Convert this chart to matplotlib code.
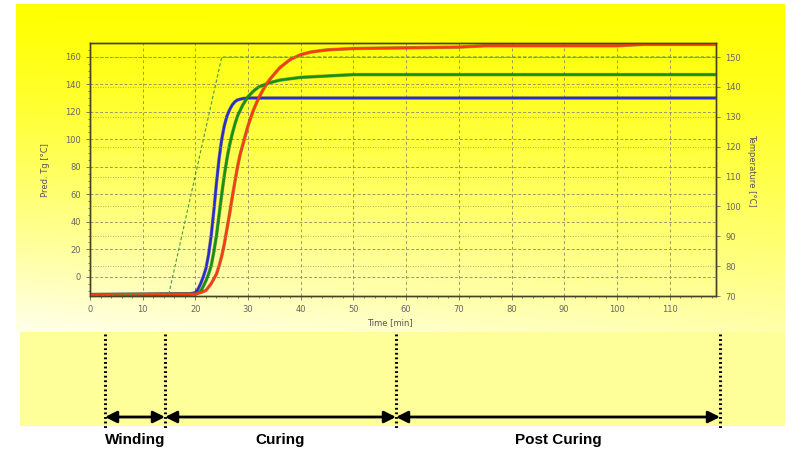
import numpy as np
import matplotlib
matplotlib.use("Agg")
import matplotlib.pyplot as plt

# ---------------- data ----------------
blue_t = [0, 19, 20, 20.5, 21, 21.5, 22, 22.5, 23, 23.5, 24, 24.5, 25, 25.5, 26, 26.5, 27, 27.5, 28, 29, 30, 119]
blue_v = [-13, -12.5, -11.5, -9, -5, 0, 6, 16, 30, 48, 68, 86, 100, 110, 117, 121.5, 125, 127.3, 128.6, 129.6, 130, 130]

green_t = [0, 20, 21, 21.5, 22, 22.5, 23, 23.5, 24, 24.5, 25, 25.5, 26, 26.5, 27, 27.5, 28, 29, 30, 31, 32, 34, 36, 40, 45, 50, 119]
green_v = [-13, -12.5, -10.5, -7, -3, 2, 8, 18, 30, 45, 60, 74, 86, 96, 104, 111, 117, 125, 131, 135, 138, 141, 143, 145, 146, 147, 147]

red_t = [0, 20, 21, 22, 23, 23.5, 24, 24.5, 25, 25.5, 26, 26.5, 27, 27.5, 28, 28.5, 29, 30, 31, 32, 33, 34, 36, 38, 40, 42, 45, 50, 60, 70, 75, 100, 105, 119]
red_v = [-13, -12.5, -11.5, -10, -5, -1.5, 2, 8, 15, 24, 35, 46, 58, 69, 80, 89, 96, 110, 121, 130, 137, 143, 152, 158, 161.5, 163.5, 165, 166, 166.5, 167, 168, 168, 169, 169]

temp_t = [0, 15, 25, 119]
temp_v = [70, 71, 150, 150]

x_ticks = list(range(0, 111, 10))
left_ticks = list(range(0, 161, 20))
right_ticks = list(range(70, 151, 10))

phase_names = ["Winding", "Curing", "Post Curing"]
phase_px = [105, 165, 396, 720]   # boundary positions (figure pixels)

# ---------------- figure ----------------
W, H = 785, 449
fig = plt.figure(figsize=(W / 100, H / 100), dpi=100)

# background gradient region (top)
bg = fig.add_axes([16 / W, 1 - 332 / H, 1 - 16 / W, (332 - 4) / H])
bg.set_axis_off()
ny, nx = 200, 400
yy = np.linspace(0, 1, ny)[:, None]
xx = np.linspace(0, 1, nx)[None, :]
white = np.clip(yy ** 1.3 * (0.92 - 0.25 * xx), 0, 1)
img = np.zeros((ny, nx, 3))
img[..., 0] = 1.0
img[..., 1] = 1.0
img[..., 2] = white
bg.imshow(img, aspect="auto", extent=[0, 1, 0, 1], origin="upper")

# pale band (bottom)
band = fig.add_axes([20 / W, 1 - 426 / H, 1 - 20 / W, (426 - 332) / H])
band.set_axis_off()
band.add_patch(plt.Rectangle((0, 0), 1, 1, color="#FFFF99", transform=band.transAxes))

# main axes
ax = fig.add_axes([90 / W, 1 - 296 / H, 626 / W, (296 - 43) / H])
ax.patch.set_alpha(0)
ax.set_xlim(0, 118.8)
ax.set_ylim(-14, 170)
ax2 = ax.twinx()
ax2.set_ylim(70, 154.7)

grid_col = "#9a9a60"
for v in left_ticks:
    ax.axhline(v, color=grid_col, lw=0.7, ls=(0, (3, 2)), zorder=1)
for v in right_ticks:
    ax2.axhline(v, color=grid_col, lw=0.6, ls=(0, (1, 2)), zorder=1)
for v in x_ticks[1:]:
    ax.axvline(v, color=grid_col, lw=0.7, ls=(0, (3, 3)), zorder=1)

ax2.plot(temp_t, temp_v, color="#4a9a4a", lw=0.8, ls=(0, (3, 2)), zorder=2)

for t, v, c in [(blue_t, blue_v, "#2a2ad8"), (green_t, green_v, "#129412"), (red_t, red_v, "#ff3a10")]:
    ax.plot(t, v, color="#333333", lw=2.5, alpha=0.45, zorder=3, solid_capstyle="butt")
    ax.plot(t, v, color=c, lw=1.8, zorder=4, solid_capstyle="butt")

ax.set_xticks(x_ticks)
ax.set_yticks(left_ticks)
ax2.set_yticks(right_ticks)
ax.set_yticks(np.arange(-10, 170, 5), minor=True)
ax.set_xticks(np.arange(0, 119, 2), minor=True)
for a in (ax, ax2):
    a.tick_params(labelsize=6, colors="#666666", length=3, width=0.6)
    a.tick_params(which="minor", length=1.5, width=0.5, colors="#555533")
    for s in a.spines.values():
        s.set_color("#444422")
        s.set_linewidth(1.0)

fig.text(45 / W, 1 - 170 / H, "Pred. Tg [°C]", rotation=90, fontsize=6, color="#555555",
         ha="center", va="center")
fig.text(752 / W, 1 - 170 / H, "Temperature [°C]", rotation=270, fontsize=6, color="#555555",
         ha="center", va="center")
fig.text(390 / W, 1 - 323 / H, "Time [min]", fontsize=6, color="#555555", ha="center", va="center")

# phase markers
for xp in phase_px:
    fig.add_artist(plt.Line2D([xp / W, xp / W], [1 - 334 / H, 1 - 429 / H], color="black",
                              lw=2.2, ls=(0, (0.6, 0.9)), transform=fig.transFigure))
arrow_y = 1 - 417 / H
for i, name in enumerate(phase_names):
    x0, x1 = phase_px[i] / W, phase_px[i + 1] / W
    fig.add_artist(matplotlib.patches.FancyArrowPatch((x0, arrow_y), (x1, arrow_y),
                   arrowstyle="<|-|>,head_length=7,head_width=3.5", color="black", lw=2,
                   transform=fig.transFigure, shrinkA=0, shrinkB=0))
    fig.text((x0 + x1) / 2, 1 - 440 / H, name, fontsize=11, fontweight="bold",
             family="Liberation Sans", ha="center", va="center")

fig.savefig("out.png", dpi=100)
